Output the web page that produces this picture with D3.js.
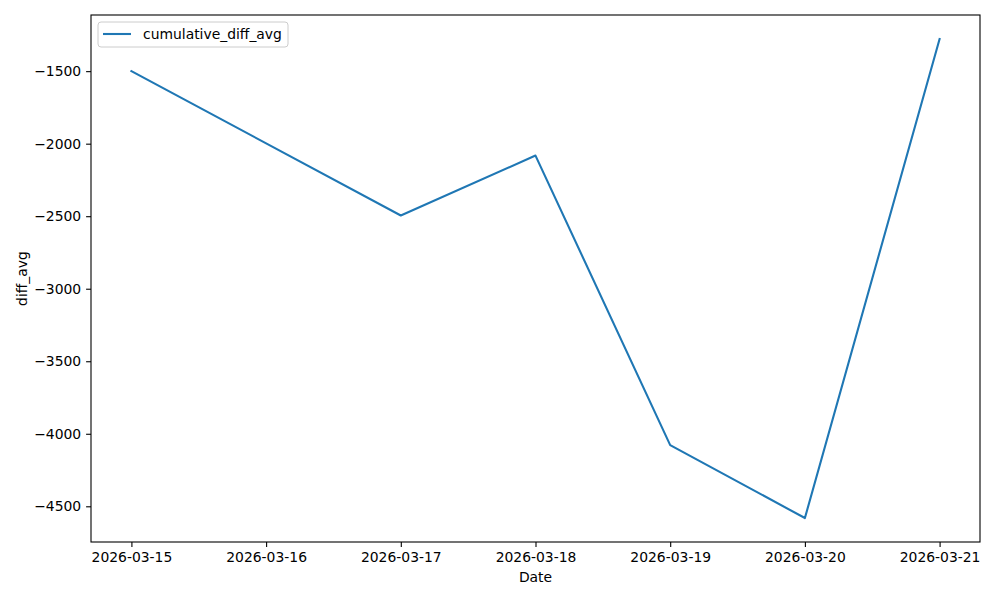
<!DOCTYPE html>
<html>
<head>
<meta charset="utf-8">
<script src="https://cdn.jsdelivr.net/npm/d3@7"></script>
<style>
body { margin: 0; background: #fff; }
svg text { font-family: "DejaVu Sans", sans-serif; fill: #000; }
</style>
</head>
<body>
<svg id="chart" width="1000" height="600"></svg>
<script>
// data
var dates = ["2026-03-15", "2026-03-17", "2026-03-18", "2026-03-19", "2026-03-20", "2026-03-21"];
var values = [-1500, -2495, -2082, -4078, -4581, -1278];
var yTicks = [-4500, -4000, -3500, -3000, -2500, -2000, -1500];
var seriesName = "cumulative_diff_avg";

var parse = d3.utcParse("%Y-%m-%d");
var data = dates.map(function(d, i) { return {"date": parse(d), "value": values[i]}; });

// plot box (window.top is reserved, so no bare "top")
var plotLeft = 91, plotRight = 980, plotTop = 15, plotBottom = 542;
var svg = d3.select("#chart");

// matplotlib style 5% margins
var x0 = d3.min(data, function(d) { return +d.date; });
var x1 = d3.max(data, function(d) { return +d.date; });
var xPad = (x1 - x0) * 0.05;
var yMin = d3.min(values), yMax = d3.max(values);
var yPad = (yMax - yMin) * 0.05;

var xScale = d3.scaleUtc()
		.domain([new Date(x0 - xPad), new Date(x1 + xPad)])
		.range([plotLeft, plotRight]);
var yScale = d3.scaleLinear()
		.domain([yMin - yPad, yMax + yPad])
		.range([plotBottom, plotTop]);

var xTicks = d3.utcDay.range(parse("2026-03-15"), d3.utcDay.offset(parse("2026-03-21"), 1));

var xAxis = d3.axisBottom(xScale)
		.tickValues(xTicks)
		.tickFormat(d3.utcFormat("%Y-%m-%d"))
		.tickSizeInner(4.9).tickSizeOuter(0).tickPadding(4.9);
var yAxis = d3.axisLeft(yScale)
		.tickValues(yTicks)
		.tickFormat(d3.format("d"))
		.tickSizeInner(4.9).tickSizeOuter(0).tickPadding(4.9);

var gx = svg.append("g").attr("transform", "translate(0," + plotBottom + ")").call(xAxis);
var gy = svg.append("g").attr("transform", "translate(" + plotLeft + ",0)").call(yAxis);
[gx, gy].forEach(function(g) {
	g.select(".domain").remove();
	g.selectAll(".tick line").attr("stroke", "#000").attr("stroke-width", 1.1);
	g.selectAll(".tick text").attr("font-size", "13.9px").attr("font-family", "DejaVu Sans");
});

var line = d3.line()
		.x(function(d) { return xScale(d.date); })
		.y(function(d) { return yScale(d.value); });

svg.append("path")
	.datum(data)
	.attr("d", line)
	.attr("fill", "none")
	.attr("stroke", "#1f77b4")
	.attr("stroke-width", 2.1)
	.attr("stroke-linejoin", "round")
	.attr("stroke-linecap", "square");

// frame
svg.append("rect")
	.attr("x", plotLeft).attr("y", plotTop)
	.attr("width", plotRight - plotLeft).attr("height", plotBottom - plotTop)
	.attr("fill", "none").attr("stroke", "#000").attr("stroke-width", 1.1);

// axis labels
svg.append("text")
	.attr("x", (plotLeft + plotRight) / 2).attr("y", 582)
	.attr("text-anchor", "middle").attr("font-size", "13.9px")
	.text("Date");
svg.append("text")
	.attr("transform", "translate(27," + ((plotTop + plotBottom) / 2) + ") rotate(-90)")
	.attr("text-anchor", "middle").attr("font-size", "13.9px")
	.text("diff_avg");

// legend
var lg = svg.append("g");
lg.append("rect")
	.attr("x", 98).attr("y", 22).attr("width", 190).attr("height", 25)
	.attr("rx", 3).attr("fill", "#fff").attr("fill-opacity", 0.8)
	.attr("stroke", "#ccc").attr("stroke-width", 1);
lg.append("line")
	.attr("x1", 103).attr("x2", 131).attr("y1", 34).attr("y2", 34)
	.attr("stroke", "#1f77b4").attr("stroke-width", 2.1);
lg.append("text")
	.attr("x", 143).attr("y", 39)
	.attr("font-size", "13.9px")
	.text(seriesName);
</script>
</body>
</html>
